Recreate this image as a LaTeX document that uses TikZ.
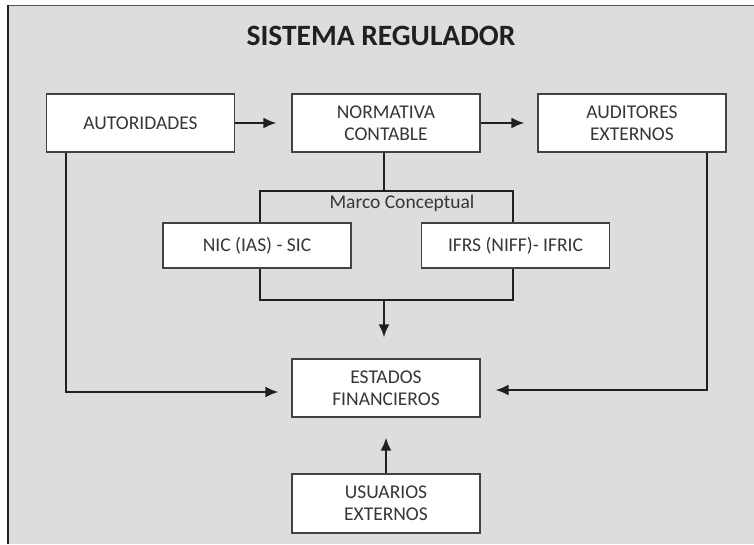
\documentclass[tikz,border=0pt]{standalone}
\usepackage{fontspec}
\setmainfont{Carlito}
\usetikzlibrary{arrows.meta}
\definecolor{bggray}{HTML}{DCDDDF}
\definecolor{ink}{HTML}{231F20}
\begin{document}
\begin{tikzpicture}[x=1pt,y=-1pt,
  box/.style={draw=ink!85, line width=1.2pt, fill=white, minimum width=188pt, minimum height=58pt,
    align=center, inner sep=0pt, font=\fontsize{19.5}{22}\selectfont, text=ink!90},
  smallbox/.style={box, minimum height=45pt},
  conn/.style={draw=ink, line width=2.3pt},
  arr/.style={conn, -{Latex[length=13pt,width=11pt]}},
  lbl/.style={font=\fontsize{19.5}{22}\selectfont, text=ink!90, inner sep=0pt}]
\useasboundingbox (0,0) rectangle (754,544);
\fill[white] (0,0) rectangle (754,544);
\fill[bggray] (7,5) rectangle (754,544);
\draw[line width=1.5pt, draw=black!65] (7,5.5) -- (754,5.5);
\draw[line width=2pt, draw=ink] (7.5,5) -- (7.5,544);
% title
\node[font=\bfseries\fontsize{29.5}{31}\selectfont, text=ink, inner sep=0pt] (title) at (381,36) {SISTEMA REGULADOR};
% bracket (Marco Conceptual)
\coordinate (mtl) at (260,191);
\coordinate (mtr) at (513,191);
\coordinate (mbl) at (260,300);
\coordinate (mbr) at (513,300);
\coordinate (mtop) at (384,191);
\coordinate (mbot) at (384,300);
\draw[conn] (mtl) -- (mtr) -- (mbr) -- (mbl) -- cycle;
\node[lbl] (marco) at (402,203) {Marco Conceptual};
% boxes
\node[box] (aut) at (140.5,123) {AUTORIDADES};
\node[box] (norm) at (386,123) {NORMATIVA\\CONTABLE};
\node[box] (aud) at (632,123) {AUDITORES\\EXTERNOS};
\node[smallbox] (nic) at (257,245.5) {NIC (IAS) - SIC};
\node[smallbox] (ifrs) at (515.5,245.5) {IFRS (NIFF)- IFRIC};
\node[box] (est) at (386,388) {ESTADOS\\FINANCIEROS};
\node[box, minimum height=59pt] (usu) at (386,503.5) {USUARIOS\\EXTERNOS};
% connectors
\coordinate (lx) at (66,0);
\coordinate (rx) at (707,0);
\draw[arr, shorten >=15pt] (aut.east) -- (norm.west);
\draw[arr, shorten >=13pt] (norm.east) -- (aud.west);
\draw[conn] (norm.south -| mtop) -- (mtop);
\draw[arr, shorten >=21pt] (mbot) -- (est.north -| mbot);
\draw[arr, shorten >=13pt] (aut.south -| lx) |- ([yshift=-4pt]est.west);
\draw[arr, shorten >=15pt] (aud.south -| rx) |- ([yshift=-2pt]est.east);
\draw[arr, shorten >=20pt] (usu.north) -- (est.south);
\end{tikzpicture}
\end{document}
